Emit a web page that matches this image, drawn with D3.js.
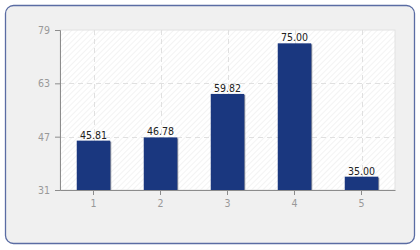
<html>
<head>
<script src="https://d3js.org/d3.v7.min.js"></script>
<style>
  body { margin: 0; background: #ffffff; font-family: "DejaVu Sans Condensed", "DejaVu Sans", sans-serif; }
</style>
</head>
<body>
<svg id="chart" width="420" height="250"></svg>
<script>
    // chart data
    let categories = ["1", "2", "3", "4", "5"]
    let values = [45.81, 46.78, 59.82, 75.00, 35.00]
    let yTicks = [31, 47, 63, 79]

    let margin = {left: 60, top: 30, right: 25, bottom: 60}
    let width = 420, height = 250
    let bodyWidth = width - margin.left - margin.right
    let bodyHeight = height - margin.top - margin.bottom
    let font = "DejaVu Sans Condensed, DejaVu Sans, sans-serif"

    let svg = d3.select("#chart")

    // hatch pattern for plot background
    let defs = svg.append("defs")
    let pat = defs.append("pattern")
        .attr("id", "hatch")
        .attr("patternUnits", "userSpaceOnUse")
        .attr("width", 4).attr("height", 4)
        .attr("patternTransform", "rotate(45)")
    pat.append("rect").attr("width", 4).attr("height", 4).attr("fill", "#ffffff")
    pat.append("line").attr("x1", 0).attr("y1", 0).attr("x2", 0).attr("y2", 4)
        .attr("stroke", "#ececec").attr("stroke-width", 1.2)

    // outer frame
    svg.append("rect")
        .attr("x", 5.5).attr("y", 5.5)
        .attr("width", 409).attr("height", 238)
        .attr("rx", 8)
        .attr("fill", "#f0f0f0")
        .attr("stroke", "#5a6ca3")
        .attr("stroke-width", 1.3)

    let xScale = d3.scaleBand()
        .domain(categories)
        .range([0, bodyWidth])
        .paddingInner(0.5)
        .paddingOuter(0.25)

    let yScale = d3.scaleLinear()
        .domain([31, 79])
        .range([bodyHeight, 0])

    let body = svg.append("g")
        .attr("transform", `translate(${margin.left},${margin.top})`)

    body.append("rect")
        .attr("width", bodyWidth).attr("height", bodyHeight)
        .attr("fill", "url(#hatch)")
        .attr("stroke", "#e2e2e2")

    // grid
    body.selectAll(".hgrid")
        .data(yTicks.slice(1, -1))
        .enter().append("line")
        .attr("x1", 0).attr("x2", bodyWidth)
        .attr("y1", d => Math.round(yScale(d)) + 0.5)
        .attr("y2", d => Math.round(yScale(d)) + 0.5)
        .attr("stroke", "#e0e0e0")
        .attr("stroke-dasharray", "5,4")

    body.selectAll(".vgrid")
        .data(categories)
        .enter().append("line")
        .attr("x1", d => Math.round(xScale(d) + xScale.bandwidth() / 2) + 0.5)
        .attr("x2", d => Math.round(xScale(d) + xScale.bandwidth() / 2) + 0.5)
        .attr("y1", 0).attr("y2", bodyHeight)
        .attr("stroke", "#e0e0e0")
        .attr("stroke-dasharray", "5,4")

    // bars with a small shadow
    let data = categories.map((c, i) => ({cat: c, value: values[i]}))

    body.selectAll(".shadow")
        .data(data)
        .enter().append("rect")
        .attr("x", d => xScale(d.cat) + 1)
        .attr("y", d => yScale(d.value) + 1)
        .attr("width", xScale.bandwidth())
        .attr("height", d => bodyHeight - yScale(d.value) - 1)
        .attr("fill", "#8a8f9c")

    body.selectAll(".bar")
        .data(data)
        .enter().append("rect")
        .attr("x", d => xScale(d.cat))
        .attr("y", d => yScale(d.value))
        .attr("width", xScale.bandwidth())
        .attr("height", d => bodyHeight - yScale(d.value))
        .attr("fill", "#1a377f")

    body.selectAll(".label")
        .data(data)
        .enter().append("text")
        .attr("x", d => xScale(d.cat) + xScale.bandwidth() / 2)
        .attr("y", d => yScale(d.value) - 2)
        .attr("text-anchor", "middle")
        .attr("font-size", 10.5)
        .attr("font-family", font)
        .attr("fill", "#222")
        .text(d => d.value.toFixed(2))

    // axes
    let yAxis = d3.axisLeft(yScale).tickValues(yTicks).tickSize(5).tickPadding(5)
    let gy = body.append("g").call(yAxis)
    gy.select(".domain").attr("stroke", "#8c8c8c")
    gy.selectAll(".tick line").attr("stroke", "#8c8c8c")
    gy.selectAll("text").attr("fill", "#999").attr("font-size", 10.5)
        .attr("font-family", font)

    let xAxis = d3.axisBottom(xScale).tickSize(5).tickSizeOuter(0).tickPadding(5)
    let gx = body.append("g").attr("transform", `translate(0,${bodyHeight})`).call(xAxis)
    gx.select(".domain").attr("stroke", "#8c8c8c")
    gx.selectAll(".tick line").attr("stroke", "#8c8c8c")
    gx.selectAll("text").attr("fill", "#999").attr("font-size", 10.5)
        .attr("font-family", font)
</script>
</body>
</html>
